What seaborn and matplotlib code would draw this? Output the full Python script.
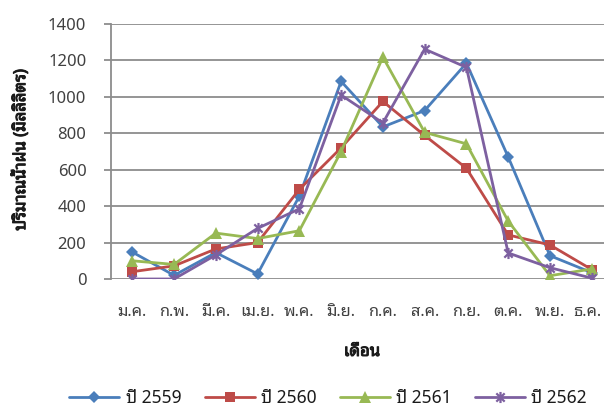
import matplotlib
matplotlib.use("Agg")
import matplotlib.pyplot as plt
import matplotlib.patheffects as pe
import matplotlib.transforms as mtransforms
from matplotlib.path import Path
import numpy as np
import pandas as pd
import seaborn as sns

months = ["ม.ค.", "ก.พ.", "มี.ค.", "เม.ย.", "พ.ค.", "มิ.ย.",
          "ก.ค.", "ส.ค.", "ก.ย.", "ต.ค.", "พ.ย.", "ธ.ค."]
years = ["ปี 2559", "ปี 2560", "ปี 2561", "ปี 2562"]
rain_2559 = [148, 20, 145, 28, 455, 1085, 835, 925, 1185, 670, 128, 35]
rain_2560 = [40, 72, 165, 200, 492, 720, 975, 788, 608, 242, 187, 52]
rain_2561 = [100, 80, 252, 222, 265, 700, 1218, 805, 742, 318, 18, 55]
rain_2562 = [0, 0, 132, 278, 385, 1010, 857, 1262, 1162, 143, 62, 5]
y_ticks = [0, 200, 400, 600, 800, 1000, 1200, 1400]

df = pd.DataFrame({
    "month": months * 4,
    "rain": rain_2559 + rain_2560 + rain_2561 + rain_2562,
    "year": np.repeat(years, len(months)),
})

sns.set_theme(style="white")
plt.rcParams["font.family"] = ["Noto Sans Thai Looped", "DejaVu Sans"]

# Excel-style "star" marker: an X crossed by a vertical bar
star = Path([(0, -1), (0, 1), (-0.75, -0.75), (0.75, 0.75), (-0.75, 0.75), (0.75, -0.75)],
            [Path.MOVETO, Path.LINETO, Path.MOVETO, Path.LINETO, Path.MOVETO, Path.LINETO])

palette = dict(zip(years, ["#4a7ebb", "#be4b48", "#98b954", "#7d60a0"]))
markers = dict(zip(years, ["D", "s", "^", star]))
msize = dict(zip(years, [6.5, 7, 8, 8]))

fig = plt.figure(figsize=(6.04, 4.09), dpi=100)
ax = fig.add_axes([111.4 / 604, 1 - 279 / 409, (612.6 - 111.4) / 604, 255 / 409])

sns.lineplot(data=df, x="month", y="rain", hue="year", style="year",
             palette=palette, markers=markers, dashes=False, sort=False,
             linewidth=2.0, markeredgewidth=0, ax=ax, legend=False)

for line, yr in zip(ax.get_lines(), years):
    line.set_markersize(msize[yr])
    if yr == "ปี 2562":
        line.set_markeredgewidth(1.6)
        line.set_markeredgecolor(palette[yr])

grid_c = "#8c8c8c"
ax.set_xlim(-0.5, len(months) - 0.5)
ax.set_ylim(0, 1400)
ax.set_yticks(y_ticks)
ax.set_yticklabels([str(v) for v in y_ticks])
ax.yaxis.grid(True, color=grid_c, linewidth=1.3)
ax.set_axisbelow(True)
for s in ["top", "right", "bottom"]:
    ax.spines[s].set_visible(False)
ax.spines["left"].set_color(grid_c)
ax.spines["left"].set_linewidth(1.3)
ax.tick_params(axis="y", direction="out", length=5, width=1.3, color=grid_c,
               labelsize=12, labelcolor="#404040", pad=13, left=True)
ax.tick_params(axis="x", length=0, labelsize=11.8, labelcolor="#404040", pad=18)
# nudge the last month label a few pixels left so it stays on the canvas
last = ax.get_xticklabels()[-1]
last.set_transform(last.get_transform()
                   + mtransforms.ScaledTranslation(-5 / 100, 0, fig.dpi_scale_trans))

bold = [pe.withStroke(linewidth=0.7, foreground="#1a1a1a")]
ax.set_xlabel("เดือน", fontsize=12, color="#1a1a1a", path_effects=bold)
ax.xaxis.set_label_coords((362 - 111.4) / (612.6 - 111.4), -(352 - 279) / 255)
ax.xaxis.label.set_va("center")
ax.set_ylabel("")
fig.text(20 / 604, 1 - 150 / 409, "ปริมาณน้ำฝน (มิลลิลิตร)", rotation=90,
         ha="center", va="center", fontsize=12, color="#1a1a1a", path_effects=bold)

handles = []
for yr in years:
    h, = ax.plot([], [], color=palette[yr], marker=markers[yr], markersize=msize[yr],
                 linewidth=2.0, markeredgewidth=(1.6 if yr == "ปี 2562" else 0),
                 markeredgecolor=palette[yr], label=yr)
    handles.append(h)
fig.legend(handles=handles, loc="center", bbox_to_anchor=(328 / 604, 1 - 398 / 409),
           ncol=4, frameon=False, fontsize=12.5, handlelength=2.88, columnspacing=1.35,
           handletextpad=0.35, labelcolor="#1a1a1a")

fig.savefig("out.png", dpi=100)
